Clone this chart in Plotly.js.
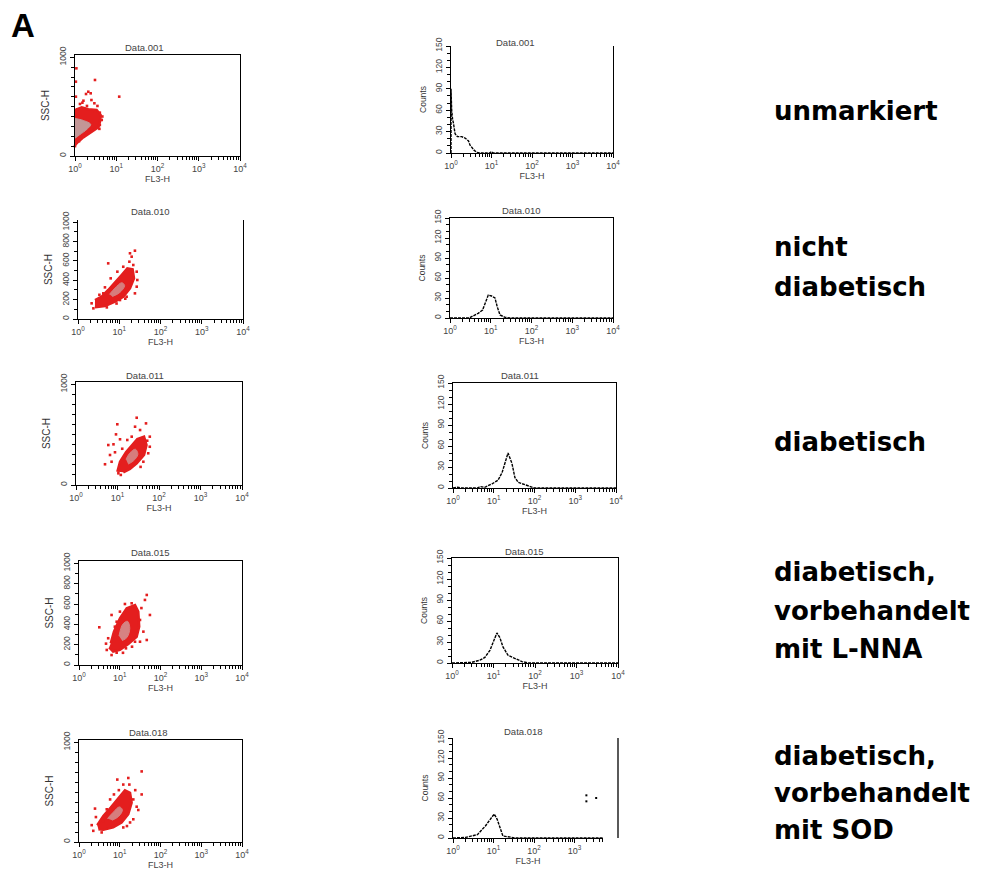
<!DOCTYPE html>
<html>
<head>
<meta charset="utf-8">
<script src="https://cdn.plot.ly/plotly-3.0.1.min.js"></script>
<style>html,body{margin:0;padding:0;background:#fff;}#chart{width:983px;height:870px;}</style>
</head>
<body>
<div id="chart"></div>
<script>
// ---------------- DATA ----------------
const xTickVals = [1, 10, 100, 1000, 10000];
const xTickText = ['10<sup>0</sup>', '10<sup>1</sup>', '10<sup>2</sup>', '10<sup>3</sup>', '10<sup>4</sup>'];
const sscTicksShort = [0, 1000];
const sscTicksFull = [0, 200, 400, 600, 800, 1000];
const countTicks = [0, 30, 60, 90, 120, 150];
const plotTitles = ['Data.001', 'Data.010', 'Data.011', 'Data.015', 'Data.018'];
const groupLabels = [
  ['unmarkiert'],
  ['nicht', 'diabetisch'],
  ['diabetisch'],
  ['diabetisch,', 'vorbehandelt', 'mit L-NNA'],
  ['diabetisch,', 'vorbehandelt', 'mit SOD']
];

// Dot plot 1 (FL3-H vs SSC-H)
const s1CloudX = [1.0, 1.45, 2.1, 3.35, 4.2, 4.04, 3.7, 2.5, 1.59, 1.2, 1.0];
const s1CloudY = [466, 493, 473, 466, 415, 347, 291, 246, 189, 145, 111];
const s1CoreX = [1.0, 1.6, 2.4, 2.0, 1.3, 1.0];
const s1CoreY = [380, 360, 320, 275, 215, 180];
const s1DotX = [1.08, 1.05, 3.05, 11.8, 2.1, 1.85, 2.4, 1.51, 2.95, 3.5, 1.32, 2.5, 4.45, 4.0, 1.14, 1.95, 4.0, 3.05, 1.05, 1.6, 4.6, 3.9, 1.25, 1.0];
const s1DotY = [888, 753, 770, 601, 651, 628, 635, 540, 534, 507, 527, 567, 365, 314, 473, 507, 439, 449, 601, 560, 400, 275, 150, 100];

// Dot plot 2
const s2CloudX = [2.58, 3.75, 5.4, 7.9, 11.4, 15.7, 21.1, 22.8, 18.2, 12.5, 7.9, 4.5, 2.58];
const s2CloudY = [196, 230, 300, 375, 455, 524, 513, 420, 317, 230, 179, 134, 121];
const s2CoreX = [5.8, 7.9, 11.5, 13.5, 10.4, 6.8];
const s2CoreY = [255, 320, 375, 345, 275, 232];
const s2DotX = [5.4, 18.2, 24, 20, 26.5, 27.4, 17.6, 12.5, 9.0, 2.36, 3.1, 2.14, 4.5, 4.1, 26.5, 24, 6.2, 10.4, 15.1, 21.9, 3.3, 5.0, 8.6, 14.0];
const s2DotY = [575, 679, 706, 644, 489, 403, 592, 540, 489, 110, 162, 162, 327, 265, 334, 265, 420, 196, 230, 558, 250, 120, 160, 210];

// Dot plot 3
const s3CloudX = [9.9, 11.5, 16, 22, 30, 43.6, 50, 43.6, 29, 20, 13.8];
const s3CloudY = [132, 231, 325, 397, 457, 480, 397, 298, 215, 159, 126];
const s3CoreX = [16, 20, 27, 31, 24, 18];
const s3CoreY = [255, 320, 355, 305, 238, 208];
const s3DotX = [29, 9.9, 48.6, 26.5, 35, 60, 6.0, 8.0, 5.0, 6.6, 8.7, 9.2, 11.5, 7.2, 10.5, 60, 55, 22, 17.2, 42, 13, 36, 52, 12];
const s3DotY = [668, 603, 612, 579, 546, 480, 397, 404, 206, 298, 325, 503, 454, 231, 116, 380, 315, 480, 447, 231, 360, 180, 440, 100];

// Dot plot 4
const s4CloudX = [6.0, 7.2, 10.1, 14.8, 23.7, 28.5, 30, 26, 16.2, 10.1, 6.9, 5.5];
const s4CloudY = [213, 328, 459, 558, 590, 525, 377, 278, 207, 148, 131, 174];
const s4CoreX = [9.6, 11.8, 15.5, 17.6, 15.0, 11.4];
const s4CoreY = [285, 400, 430, 360, 270, 240];
const s4DotX = [46, 41.5, 55, 3.15, 6.3, 10.1, 13.4, 31.4, 38, 46, 31.4, 5.2, 4.8, 6.3, 8.4, 14.2, 23.7, 8.4, 19.6, 7.6, 34, 4.6, 12, 20];
const s4DotY = [689, 640, 492, 371, 492, 525, 600, 443, 328, 246, 229, 263, 148, 98, 121, 164, 229, 426, 607, 377, 560, 210, 120, 180];

// Dot plot 5
const s5CloudX = [2.8, 3.95, 6.0, 9.2, 13.4, 17.9, 19.6, 16.2, 11.1, 6.9, 3.95, 3.0];
const s5CloudY = [169, 261, 345, 444, 519, 493, 394, 278, 196, 146, 122, 129];
const s5CoreX = [5.0, 6.8, 9.8, 11.6, 9.5, 6.5];
const s5CoreY = [235, 295, 352, 322, 258, 218];
const s5DotX = [34.5, 16.2, 8.7, 17.2, 34.5, 26, 28.5, 21.5, 2.47, 2.05, 2.24, 3.6, 5.8, 7.2, 12.2, 21.5, 12.2, 3.95, 4.8, 17.9, 24, 9.5, 2.6, 15];
const s5DotY = [708, 642, 626, 576, 477, 354, 321, 228, 335, 169, 112, 96, 427, 477, 576, 427, 146, 211, 328, 196, 520, 520, 250, 160];

// Histograms (FL3-H vs Counts)
const h1X = [1.0, 1.0, 1.04, 1.1, 1.14, 1.26, 1.44, 1.83, 2.22, 2.7, 2.95, 3.7, 4.3, 5.2, 9, 10, 11, 10000];
const h1Y = [0, 90, 60, 46, 43, 27, 23, 23, 21, 17, 11, 4, 1, 0, 0, 2, 0, 0];
const h2X = [1, 3.0, 3.4, 4.9, 6.3, 7.6, 8.7, 10.5, 12.7, 14.4, 16.9, 22.4, 30, 10000];
const h2Y = [0, 0, 2, 7, 12, 27, 34.5, 33, 30, 17, 4.5, 1, 0, 0];
const h3X = [1, 1.3, 1.6, 4, 4.6, 6, 9.1, 12.7, 16, 19, 22.4, 28, 33, 40, 66, 87, 100, 10000];
const h3Y = [0, 1, 0, 0, 2, 1, 6, 11, 22, 37, 50, 35, 15, 8, 4, 1, 0, 0];
const h4X = [1, 2.5, 3, 4.7, 6.2, 8.2, 10.3, 12.1, 14.3, 16.9, 22.4, 33, 48.5, 70, 10000];
const h4Y = [0, 0, 1, 4, 8, 18, 33, 43, 36, 23, 11, 6, 2, 0, 0];
const h5X = [1, 2, 2.05, 4, 6.3, 8.3, 10.4, 12.3, 14.5, 17, 28, 35, 5000];
const h5Y = [0, 0, 1, 5, 18, 28, 36, 28, 16, 3, 1, 0, 0];
const h5StrayX = [1950, 3400, 1950];
const h5StrayY = [64, 60, 55];

// ---------------- LAYOUT HELPERS (positions / styles) ----------------
const W = 983, H = 870;
const fx = p => p / W;
const fy = p => 1 - p / H;

const boxes = [
  {l: 75,  r: 240, t: 55,  b: 156, top: true,  right: true, tx: 144, ty: 47,  yt: sscTicksShort, kind: 's'},
  {l: 451, r: 613, t: 46,  b: 153, top: false, right: true, tx: 515, ty: 43,  yt: countTicks, kind: 'h'},
  {l: 78,  r: 243, t: 220, b: 319, top: false, right: true, tx: 150, ty: 212, yt: sscTicksFull, kind: 's'},
  {l: 450, r: 613, t: 218, b: 318, top: true,  right: true, tx: 521, ty: 210, yt: countTicks, kind: 'h'},
  {l: 76,  r: 242, t: 382, b: 485, top: true,  right: true, tx: 145, ty: 375, yt: sscTicksShort, kind: 's'},
  {l: 453, r: 616, t: 383, b: 488, top: true,  right: true, tx: 520, ty: 375, yt: countTicks, kind: 'h'},
  {l: 79,  r: 242, t: 561, b: 665, top: true,  right: true, tx: 150, ty: 552, yt: sscTicksFull, kind: 's'},
  {l: 452, r: 618, t: 558, b: 663, top: true,  right: true, tx: 524, ty: 551, yt: countTicks, kind: 'h'},
  {l: 79,  r: 242, t: 740, b: 842, top: true,  right: true, tx: 148, ty: 732, yt: sscTicksShort, kind: 's'},
  {l: 453, r: 603, t: 738, b: 838, top: false, right: false, tx: 523, ty: 731, yt: countTicks, kind: 'h', xmax: 3.7}
];

const minorLog = [];
for (let e = 0; e < 4; e++) for (let m = 2; m <= 9; m++) minorLog.push(m * Math.pow(10, e));

const FAM = 'Liberation Sans, Arial, sans-serif';
const layout = {
  width: W, height: H,
  margin: {l: 0, r: 0, t: 0, b: 0},
  paper_bgcolor: '#fff', plot_bgcolor: 'rgba(0,0,0,0)',
  showlegend: false, hovermode: false,
  annotations: [], shapes: []
};

boxes.forEach((b, i) => {
  const n = i + 1;
  const xk = n === 1 ? 'xaxis' : 'xaxis' + n;
  const yk = n === 1 ? 'yaxis' : 'yaxis' + n;
  const xa = n === 1 ? 'x' : 'x' + n;
  const ya = n === 1 ? 'y' : 'y' + n;
  const xVals = b.xmax ? xTickVals.slice(0, 4) : xTickVals;
  layout[xk] = {
    domain: [fx(b.l), fx(b.r)], anchor: ya, type: 'log', range: [0, b.xmax || 4],
    tickmode: 'array', tickvals: xVals, ticktext: xTickText.slice(0, xVals.length),
    ticks: 'outside', ticklen: 4, tickcolor: '#000', tickwidth: 1,
    minor: {tickmode: 'array', tickvals: minorLog, ticks: 'outside', ticklen: 2.5, tickcolor: '#000', showgrid: false},
    showline: true, linecolor: '#000', linewidth: 1.3, mirror: b.top,
    showgrid: false, zeroline: false, fixedrange: true,
    tickfont: {family: FAM, size: 9, color: '#444'},
    title: {text: 'FL3-H', font: {family: FAM, size: 9, color: '#444'}, standoff: 0}
  };
  const isS = b.kind === 's';
  layout[yk] = {
    domain: [fy(b.b), fy(b.t)], anchor: xa,
    range: isS ? [0, 1023] : [0, 150],
    tickmode: 'array', tickvals: b.yt, ticktext: b.yt.map(String), tickangle: -90,
    ticks: 'outside', ticklen: 4, tickcolor: '#000',
    minor: {dtick: isS ? 100 : 10, ticks: 'outside', ticklen: 2.5, tickcolor: '#000', showgrid: false},
    showline: true, linecolor: '#000', linewidth: 1.3, mirror: b.right,
    showgrid: false, zeroline: false, fixedrange: true,
    tickfont: {family: FAM, size: 8.5, color: '#444'},
    title: {text: isS ? 'SSC-H' : 'Counts',
            font: {family: FAM, size: isS ? 10 : 8.5, color: '#333'}, standoff: 6}
  };
  layout.annotations.push({
    text: plotTitles[Math.floor(i / 2)], xref: 'paper', yref: 'paper',
    x: fx(b.tx), y: fy(b.ty), xanchor: 'center', yanchor: 'middle', showarrow: false,
    font: {family: FAM, size: 9.5, color: '#444'}
  });
});

// detached right frame line of the last histogram
layout.shapes.push({type: 'line', xref: 'paper', yref: 'paper',
  x0: fx(618), x1: fx(618), y0: fy(738), y1: fy(838), line: {color: '#000', width: 1.3}});

// panel letter
layout.annotations.push({text: 'A', xref: 'paper', yref: 'paper', x: fx(9), y: fy(25),
  xanchor: 'left', yanchor: 'middle', showarrow: false,
  font: {family: FAM, size: 33, color: '#000', weight: 'bold'}});

// group labels
const labelLineY = [[111], [247, 287], [442], [572, 611, 649], [756, 793, 830]];
groupLabels.forEach((lines, gi) => {
  lines.forEach((t, li) => {
    layout.annotations.push({text: t, xref: 'paper', yref: 'paper', x: fx(772), y: fy(labelLineY[gi][li]),
      xanchor: 'left', yanchor: 'middle', showarrow: false,
      font: {family: 'DejaVu Sans, sans-serif', size: 26, color: '#000', weight: 'bold'}});
  });
});

// ---------------- TRACES ----------------
const red = 'rgb(228,30,30)';
const scatterSets = [
  [s1CloudX, s1CloudY, s1CoreX, s1CoreY, s1DotX, s1DotY, 'rgb(195,150,150)'],
  [s2CloudX, s2CloudY, s2CoreX, s2CoreY, s2DotX, s2DotY, 'rgb(214,125,125)'],
  [s3CloudX, s3CloudY, s3CoreX, s3CoreY, s3DotX, s3DotY, 'rgb(214,125,125)'],
  [s4CloudX, s4CloudY, s4CoreX, s4CoreY, s4DotX, s4DotY, 'rgb(214,130,130)'],
  [s5CloudX, s5CloudY, s5CoreX, s5CoreY, s5DotX, s5DotY, 'rgb(214,125,125)']
];
const histSets = [[h1X, h1Y], [h2X, h2Y], [h3X, h3Y], [h4X, h4Y], [h5X, h5Y]];
const traces = [];
scatterSets.forEach((s, k) => {
  const n = 2 * k + 1;
  const xa = n === 1 ? 'x' : 'x' + n, ya = n === 1 ? 'y' : 'y' + n;
  traces.push({type: 'scatter', mode: 'lines', x: s[0], y: s[1], xaxis: xa, yaxis: ya,
    fill: 'toself', fillcolor: red, line: {color: red, width: 2.5}});
  traces.push({type: 'scatter', mode: 'lines', x: s[2], y: s[3], xaxis: xa, yaxis: ya,
    fill: 'toself', fillcolor: s[6], line: {color: s[6], width: 1, shape: 'spline'}});
  traces.push({type: 'scatter', mode: 'markers', x: s[4], y: s[5], xaxis: xa, yaxis: ya,
    marker: {symbol: 'square', size: 2.6, color: red}, cliponaxis: false});
});
histSets.forEach((h, k) => {
  const n = 2 * k + 2;
  traces.push({type: 'scatter', mode: 'lines', x: h[0], y: h[1], xaxis: 'x' + n, yaxis: 'y' + n,
    line: {color: '#000', width: 1.4, dash: '3px,1px'}});
});
traces.push({type: 'scatter', mode: 'markers', x: h5StrayX, y: h5StrayY, xaxis: 'x10', yaxis: 'y10',
  marker: {symbol: 'square', size: 2, color: '#000'}, cliponaxis: false});

Plotly.newPlot('chart', traces, layout, {staticPlot: true, displayModeBar: false});
</script>
</body>
</html>
